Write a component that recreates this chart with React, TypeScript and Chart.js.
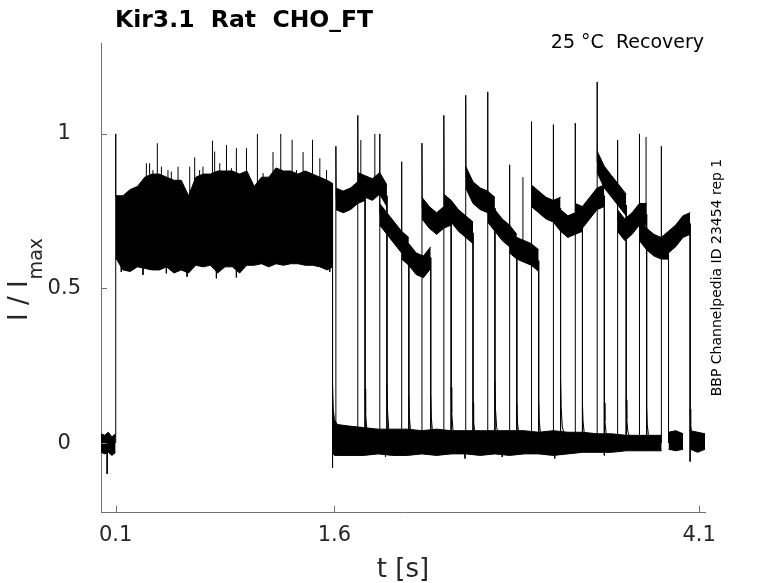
import React, { useEffect, useRef } from 'react';
import { Chart, registerables } from 'chart.js';

Chart.register(...registerables);

// ---------- text ----------
const TITLE = 'Kir3.1  Rat  CHO_FT';
const CONDITION = '25 °C  Recovery';
const SIDE_NOTE = 'BBP Channelpedia ID 23454 rep 1';
const X_TITLE = 't [s]';
const Y_TITLE_MAIN = 'I / I';
const Y_TITLE_SUB = 'max';

// ---------- axes ----------
const X_MIN = 0;
const X_MAX = 4.14;
const Y_MIN = -0.223;
const Y_MAX = 1.294;
const X_TICKS = [0.1, 1.6, 4.1];
const Y_TICKS = [0, 0.5, 1];

// ---------- holding baseline before the first step ----------
const preT = [0, 0.025, 0.05, 0.075, 0.1];
const preHi = [0.03, 0.025, 0.035, 0.02, 0.03];
const preLo = [-0.03, -0.035, -0.03, -0.04, -0.03];

// ---------- first pulse (all sweeps overlaid) ----------
const p1On = 0.1;
const p1OnPeak = 1.0;
const p1Off = 1.587;
const p1OffMin = -0.08;
const p1T = [0.1, 0.15, 0.2, 0.25, 0.3, 0.35, 0.4, 0.45, 0.5, 0.55, 0.6, 0.65, 0.7, 0.75, 0.8, 0.85, 0.9, 0.95, 1.0, 1.05, 1.1, 1.15, 1.2, 1.25, 1.3, 1.35, 1.4, 1.45, 1.5, 1.55, 1.587];
const p1Hi = [0.80, 0.80, 0.82, 0.83, 0.86, 0.87, 0.87, 0.86, 0.85, 0.85, 0.80, 0.86, 0.87, 0.87, 0.88, 0.88, 0.88, 0.87, 0.88, 0.83, 0.86, 0.86, 0.89, 0.88, 0.88, 0.87, 0.88, 0.87, 0.86, 0.85, 0.84];
const p1Lo = [0.60, 0.56, 0.555, 0.57, 0.565, 0.56, 0.56, 0.57, 0.55, 0.56, 0.55, 0.575, 0.57, 0.575, 0.55, 0.57, 0.57, 0.55, 0.575, 0.575, 0.58, 0.57, 0.58, 0.575, 0.58, 0.58, 0.575, 0.575, 0.57, 0.56, 0.57];
const p1SpikeT = [0.311, 0.333, 0.356, 0.386, 0.414, 0.459, 0.482, 0.528, 0.608, 0.642, 0.676, 0.699, 0.764, 0.779, 0.814, 0.86, 0.894, 0.928, 0.997, 1.072, 1.111, 1.179, 1.232, 1.31, 1.34, 1.385, 1.45, 1.5, 1.546];
const p1SpikeY = [0.905, 0.905, 0.883, 0.97, 0.894, 0.883, 0.878, 0.894, 0.894, 0.924, 0.883, 0.894, 0.978, 0.943, 0.905, 0.964, 0.889, 0.954, 0.954, 1.0, 0.873, 0.941, 1.0, 0.981, 0.883, 0.941, 0.981, 0.921, 0.883];
const p1DipT = [0.139, 0.288, 0.448, 0.59, 0.791, 0.928, 1.568];
const p1DipY = [0.554, 0.544, 0.549, 0.538, 0.533, 0.536, 0.554];

// ---------- baseline after the first pulse ----------
const postT = [1.587, 1.592, 1.6, 1.62, 1.7, 1.8, 1.9, 2.0, 2.1, 2.2, 2.3, 2.4, 2.5, 2.6, 2.7, 2.8, 2.9, 3.0, 3.1, 3.2, 3.3, 3.4, 3.5, 3.6, 3.7, 3.8, 3.843];
const postHi = [0.19, 0.11, 0.075, 0.06, 0.055, 0.05, 0.045, 0.045, 0.045, 0.04, 0.045, 0.04, 0.04, 0.04, 0.04, 0.04, 0.04, 0.035, 0.04, 0.035, 0.035, 0.03, 0.03, 0.025, 0.025, 0.025, 0.025];
const postLo = [-0.03, -0.035, -0.04, -0.04, -0.04, -0.04, -0.035, -0.04, -0.04, -0.035, -0.04, -0.035, -0.035, -0.04, -0.035, -0.04, -0.035, -0.035, -0.04, -0.035, -0.03, -0.03, -0.03, -0.025, -0.025, -0.025, -0.025];
const postDipT = [1.95, 2.495, 2.75, 3.11, 3.45];
const postDipY = [-0.045, -0.05, -0.045, -0.05, -0.04];
const late1T = [3.89, 3.94, 3.99];
const late1Hi = [0.035, 0.04, 0.03];
const late1Lo = [-0.02, -0.025, -0.02];
const late2T = [4.038, 4.09, 4.14];
const late2Hi = [0.04, 0.035, 0.03];
const late2Lo = [-0.02, -0.03, -0.02];

// ---------- second pulse, one per sweep ----------
const onsets = [1.61, 1.76, 1.91, 2.06, 2.2, 2.35, 2.5, 2.65, 2.8, 2.95, 3.1, 3.25, 3.4, 3.54, 3.69, 3.84];
const offsets = [1.81, 1.96, 2.11, 2.26, 2.4, 2.55, 2.7, 2.85, 3.0, 3.15, 3.3, 3.45, 3.6, 3.74, 3.89, 4.038];
const onsetPeaks = [0.96, 1.06, 1.0, 0.91, 0.97, 1.06, 1.125, 1.136, 0.9, 1.04, 1.03, 1.035, 1.168, 0.98, 1.0, 0.96];
const tailPeaks = [0.175, 0.19, 0.15, 0.15, 0.18, 0.13, 0.2, 0.13, 0.13, 0.21, 0.13, 0.13, 0.14, 0.11, 0.04, 0.11];
const offsetMins = [0, 0, 0, 0, 0, 0, 0, 0, 0, 0, 0, 0, 0, 0, 0, -0.06];
// levels read at 0, 1/4, 1/2, 3/4 and the end of each sweep's second pulse
const sweepLevels = [
  [0.79, 0.78, 0.79, 0.81, 0.82],
  [0.84, 0.83, 0.82, 0.84, 0.80],
  [0.74, 0.71, 0.68, 0.65, 0.63],
  [0.63, 0.61, 0.58, 0.57, 0.60],
  [0.76, 0.73, 0.71, 0.73, 0.74],
  [0.77, 0.75, 0.72, 0.70, 0.68],
  [0.86, 0.81, 0.79, 0.78, 0.76],
  [0.75, 0.72, 0.69, 0.67, 0.64],
  [0.65, 0.63, 0.62, 0.61, 0.59],
  [0.80, 0.78, 0.76, 0.75, 0.76],
  [0.75, 0.72, 0.70, 0.71, 0.72],
  [0.74, 0.73, 0.76, 0.79, 0.80],
  [0.91, 0.86, 0.83, 0.80, 0.77],
  [0.72, 0.69, 0.71, 0.74, 0.74],
  [0.69, 0.66, 0.64, 0.63, 0.63],
  [0.63, 0.65, 0.67, 0.70, 0.71],
];
const sweepNoise = 0.035;
const extraSpikeT = [1.781, 1.877, 2.892, 3.736];
const extraSpikeBase = [0.82, 0.83, 0.62, 0.74];
const extraSpikeY = [0.98, 1.0, 0.86, 0.99];

// ---------- style ----------
const TRACE = '#000000';
const AXIS = '#707070';
const LABEL = '#262626';
const FONT = '"DejaVu Sans", "Liberation Sans", sans-serif';
const TAIL_SHAPE = [[0, 1], [0.004, 0.55], [0.012, 0.25], [0.03, 0.1]];

type Pt = { x: number; y: number | null };

const mkLine = (data: Pt[], extra: any = {}) => ({
  data,
  borderColor: TRACE,
  backgroundColor: TRACE,
  borderWidth: 1,
  pointRadius: 0,
  pointHoverRadius: 0,
  fill: false,
  tension: 0,
  spanGaps: false,
  ...extra,
});

const decor = {
  id: 'decor',
  afterDraw(chart: any) {
    const { ctx, chartArea, scales } = chart;
    const xs = scales.x;
    const ys = scales.y;
    ctx.save();
    ctx.strokeStyle = AXIS;
    ctx.lineWidth = 1;
    X_TICKS.forEach((v) => {
      const px = Math.round(xs.getPixelForValue(v)) + 0.5;
      ctx.beginPath();
      ctx.moveTo(px, chartArea.bottom);
      ctx.lineTo(px, chartArea.bottom - 6);
      ctx.stroke();
    });
    Y_TICKS.forEach((v) => {
      const py = Math.round(ys.getPixelForValue(v)) + 0.5;
      ctx.beginPath();
      ctx.moveTo(chartArea.left, py);
      ctx.lineTo(chartArea.left + 6, py);
      ctx.stroke();
    });

    ctx.fillStyle = '#000';
    ctx.textBaseline = 'alphabetic';
    ctx.font = `bold 23.5px ${FONT}`;
    ctx.textAlign = 'left';
    ctx.fillText(TITLE, 115, 27);

    ctx.font = `19px ${FONT}`;
    ctx.textAlign = 'right';
    ctx.fillText(CONDITION, 704, 48);

    ctx.fillStyle = LABEL;
    ctx.font = `26px ${FONT}`;
    ctx.textAlign = 'center';
    ctx.fillText(X_TITLE, (chartArea.left + chartArea.right) / 2, 577);

    // y title with subscript
    ctx.save();
    ctx.translate(27, 321);
    ctx.rotate(-Math.PI / 2);
    ctx.textAlign = 'left';
    ctx.font = `26px ${FONT}`;
    ctx.fillText(Y_TITLE_MAIN, 0, 0);
    const w = ctx.measureText(Y_TITLE_MAIN).width;
    ctx.font = `19px ${FONT}`;
    ctx.fillText(Y_TITLE_SUB, w + 1, 15);
    ctx.restore();

    // side note
    ctx.save();
    ctx.fillStyle = '#000';
    ctx.translate(721, 277.5);
    ctx.rotate(-Math.PI / 2);
    ctx.textAlign = 'center';
    ctx.font = `14px ${FONT}`;
    ctx.fillText(SIDE_NOTE, 0, 0);
    ctx.restore();

    ctx.restore();
  },
};

export default function App() {
  const ref = useRef<HTMLCanvasElement>(null);

  useEffect(() => {
    const canvas = ref.current;
    if (!canvas) return;
    const datasets: any[] = [];

    const addBand = (t: number[], hi: number[], lo: number[]) => {
      datasets.push(mkLine(t.map((x, i) => ({ x, y: lo[i] }))));
      datasets.push(mkLine(t.map((x, i) => ({ x, y: hi[i] })), { fill: '-1' }));
    };

    addBand(preT, preHi, preLo);
    addBand(p1T, p1Hi, p1Lo);
    addBand(postT, postHi, postLo);
    addBand(late1T, late1Hi, late1Lo);
    addBand(late2T, late2Hi, late2Lo);

    onsets.forEach((o, k) => {
      const e = offsets[k];
      const d = e - o;
      const t = [o, o + d / 4, o + d / 2, o + (3 * d) / 4, e];
      const lv = sweepLevels[k];
      addBand(t, lv.map((v) => v + sweepNoise), lv.map((v) => v - sweepNoise));
    });

    // vertical strokes, spikes and tails
    const segs: Pt[] = [];
    const seg = (pts: number[][]) => {
      pts.forEach(([x, y]) => segs.push({ x, y }));
      segs.push({ x: pts[pts.length - 1][0], y: null });
    };
    seg([[0.042, 0], [0.042, -0.1]]);
    seg([[p1On, 0], [p1On, p1OnPeak], [p1On + 0.002, p1Hi[0]]]);
    p1SpikeT.forEach((t, i) => seg([[t, 0.78], [t, p1SpikeY[i]]]));
    p1DipT.forEach((t, i) => seg([[t, 0.62], [t, p1DipY[i]]]));
    seg([[p1Off, p1Hi[p1Hi.length - 1]], [p1Off, p1OffMin]]);
    postDipT.forEach((t, i) => seg([[t, 0], [t, postDipY[i]]]));
    onsets.forEach((o, k) => {
      const lv = sweepLevels[k];
      seg([[o, 0], [o, onsetPeaks[k]], [o + 0.002, lv[0]]]);
      const e = offsets[k];
      seg([[e, lv[4]], [e, offsetMins[k]]]);
      const tp = tailPeaks[k];
      seg(TAIL_SHAPE.map(([dt, f]) => [e + dt, tp * f]));
    });
    extraSpikeT.forEach((t, i) => seg([[t, extraSpikeBase[i]], [t, extraSpikeY[i]]]));
    datasets.push(mkLine(segs));

    const tickFont = { family: FONT, size: 21 };
    const chart = new Chart(canvas, {
      type: 'line',
      data: { datasets },
      options: {
        animation: false,
        responsive: false,
        maintainAspectRatio: false,
        events: [],
        layout: { padding: { top: 43, right: 73, bottom: 0, left: 0 } },
        plugins: {
          legend: { display: false },
          tooltip: { enabled: false },
          title: { display: false },
        },
        scales: {
          x: {
            type: 'linear',
            min: X_MIN,
            max: X_MAX,
            afterBuildTicks: (s: any) => {
              s.ticks = X_TICKS.map((v) => ({ value: v }));
            },
            afterFit: (s: any) => {
              s.height = 71;
            },
            grid: { display: false, drawTicks: false },
            border: { display: true, color: AXIS, width: 1 },
            ticks: {
              autoSkip: false,
              maxRotation: 0,
              padding: 11,
              color: LABEL,
              font: tickFont,
              callback: (v: any) => String(v),
            },
          },
          y: {
            type: 'linear',
            min: Y_MIN,
            max: Y_MAX,
            afterBuildTicks: (s: any) => {
              s.ticks = Y_TICKS.map((v) => ({ value: v }));
            },
            afterFit: (s: any) => {
              s.width = 101;
            },
            grid: { display: false, drawTicks: false },
            border: { display: true, color: AXIS, width: 1 },
            ticks: {
              crossAlign: 'center',
              padding: 20,
              color: LABEL,
              font: tickFont,
              callback: (v: any) => String(v),
            },
          },
        },
      } as any,
      plugins: [decor],
    });
    return () => chart.destroy();
  }, []);

  return (
    <div style={{ position: 'fixed', left: 0, top: 0, width: 778, height: 583, background: '#fff' }}>
      <canvas ref={ref} width={778} height={583} style={{ width: 778, height: 583, display: 'block' }} />
    </div>
  );
}
